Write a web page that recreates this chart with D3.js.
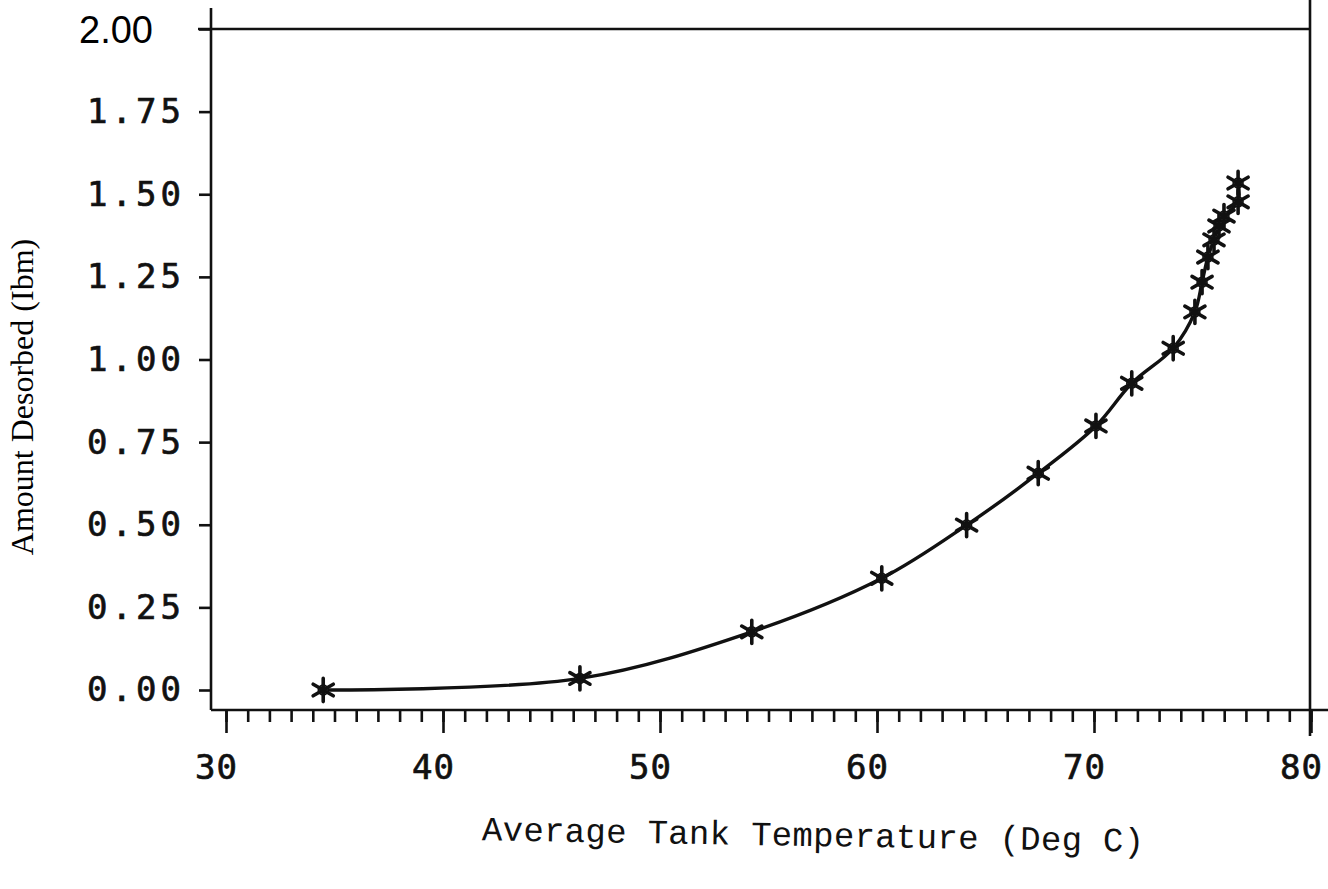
<!DOCTYPE html>
<html>
<head>
<meta charset="utf-8">
<script src="https://cdn.jsdelivr.net/npm/d3@7"></script>
<style>
  body { margin: 0; background: #fff; }
</style>
</head>
<body>
<div id="chart"></div>
<script>
(function(){
  var width = 1328;
  var height = 889;

  // readings taken off the plotted curve
  var temperature = [34.48, 46.31, 54.23, 60.22, 64.13, 67.43, 70.09, 71.74, 73.65,
                     74.65, 74.98, 75.25, 75.53, 75.76, 75.99, 76.64, 76.64];
  var desorbed = [0.000, 0.035, 0.176, 0.338, 0.499, 0.656, 0.799, 0.928, 1.034,
                  1.144, 1.234, 1.310, 1.362, 1.404, 1.434, 1.477, 1.534];
  var xMajor = [30, 40, 50, 60, 70, 80];
  var xMinor = d3.range(30, 81, 1);
  var yTicks = [0, 0.25, 0.5, 0.75, 1, 1.25, 1.5, 1.75, 2];

  var points = temperature.map(function(t, i){ return { t: t, v: desorbed[i] }; });

  var x = d3.scaleLinear().domain([30, 80]).range([226, 1311]);
  var y = d3.scaleLinear().domain([0, 2]).range([690, 29]);

  var axisX = 211, axisY = 710;
  var ink = '#111';
  var plotFont = '"DejaVu Sans Mono", monospace';

  var svg = d3.select('#chart').append('svg')
      .attr('width', width)
      .attr('height', height)
      .style('background', '#fff');

  // frame lines
  var frame = svg.append('g').attr('stroke', ink).attr('stroke-width', 2.6).attr('fill', 'none');
  frame.append('line').attr('x1', axisX).attr('x2', axisX).attr('y1', 8).attr('y2', axisY);
  frame.append('line').attr('x1', 198).attr('x2', 1310).attr('y1', y(2)).attr('y2', y(2));
  frame.append('line').attr('x1', 1310).attr('x2', 1310).attr('y1', 0).attr('y2', 736);
  frame.append('line').attr('x1', axisX).attr('x2', width).attr('y1', axisY).attr('y2', axisY);

  // x axis: minor ticks every degree, long ticks + labels every 10
  var minorAxis = svg.append('g')
      .attr('transform', 'translate(0,' + axisY + ')')
      .call(d3.axisBottom(x).tickValues(xMinor).tickSize(12).tickFormat(''));
  var majorAxis = svg.append('g')
      .attr('transform', 'translate(0,' + axisY + ')')
      .call(d3.axisBottom(x).tickValues(xMajor).tickSize(23).tickPadding(22).tickFormat(d3.format('d')));
  [minorAxis, majorAxis].forEach(function(g){
    g.select('.domain').remove();
    g.selectAll('.tick line').attr('stroke', ink).attr('stroke-width', 2.6);
  });
  majorAxis.selectAll('.tick text')
      .attr('dx', -10)
      .attr('fill', ink)
      .attr('stroke', ink)
      .attr('stroke-width', 0.7)
      .style('font-family', plotFont)
      .style('font-size', '34px')
      .style('letter-spacing', '1px');

  // y axis
  var yAxis = svg.append('g')
      .attr('transform', 'translate(' + axisX + ',0)')
      .call(d3.axisLeft(y).tickValues(yTicks).tickSize(12).tickPadding(14).tickFormat(d3.format('.2f')));
  yAxis.select('.domain').remove();
  yAxis.selectAll('.tick line').attr('stroke', ink).attr('stroke-width', 2.6);
  yAxis.selectAll('.tick text')
      .attr('fill', ink)
      .attr('stroke', ink)
      .attr('stroke-width', 0.7)
      .style('font-family', plotFont)
      .style('font-size', '34px')
      .style('letter-spacing', '4px');
  // the top label was typed in later with a different face
  yAxis.selectAll('.tick')
      .filter(function(d){ return d === 2; })
      .select('text')
      .attr('x', -58)
      .attr('dy', '0.36em')
      .attr('stroke', 'none')
      .style('font-family', '"Liberation Sans", Arial, sans-serif')
      .style('font-size', '38px')
      .style('letter-spacing', '0px')
      .attr('fill', '#000');

  // smooth curve through the readings
  var line = d3.line()
      .x(function(d){ return x(d.t); })
      .y(function(d){ return y(d.v); })
      .curve(d3.curveCatmullRom.alpha(0.5));

  svg.append('path')
      .datum(points)
      .attr('d', line)
      .attr('fill', 'none')
      .attr('stroke', ink)
      .attr('stroke-width', 3.4)
      .attr('stroke-linejoin', 'round');

  // asterisk markers
  var marks = svg.selectAll('g.mark')
      .data(points)
      .enter()
      .append('g')
        .attr('class', 'mark')
        .attr('transform', function(d){ return 'translate(' + x(d.t) + ',' + y(d.v) + ')'; });
  marks.append('circle')
      .attr('r', 5)
      .attr('fill', '#555')
      .attr('stroke', ink)
      .attr('stroke-width', 1.5);
  marks.append('path')
      .attr('d', d3.symbol().type(d3.symbolAsterisk).size(380))
      .attr('fill', 'none')
      .attr('stroke', ink)
      .attr('stroke-width', 3.6)
      .attr('stroke-linecap', 'round');

  // axis titles
  svg.append('text')
      .attr('transform', 'translate(33,397) rotate(-90)')
      .attr('text-anchor', 'middle')
      .style('font-family', '"Liberation Serif", "Times New Roman", serif')
      .style('font-size', '32px')
      .attr('fill', '#000')
      .text('Amount Desorbed (Ibm)');

  svg.append('text')
      .attr('transform', 'translate(813,846) rotate(1)')
      .attr('text-anchor', 'middle')
      .style('font-family', '"Liberation Mono", "Courier New", monospace')
      .style('font-size', '34px')
      .style('letter-spacing', '0.3px')
      .attr('fill', ink)
      .text('Average Tank Temperature (Deg C)');
})();
</script>
</body>
</html>
